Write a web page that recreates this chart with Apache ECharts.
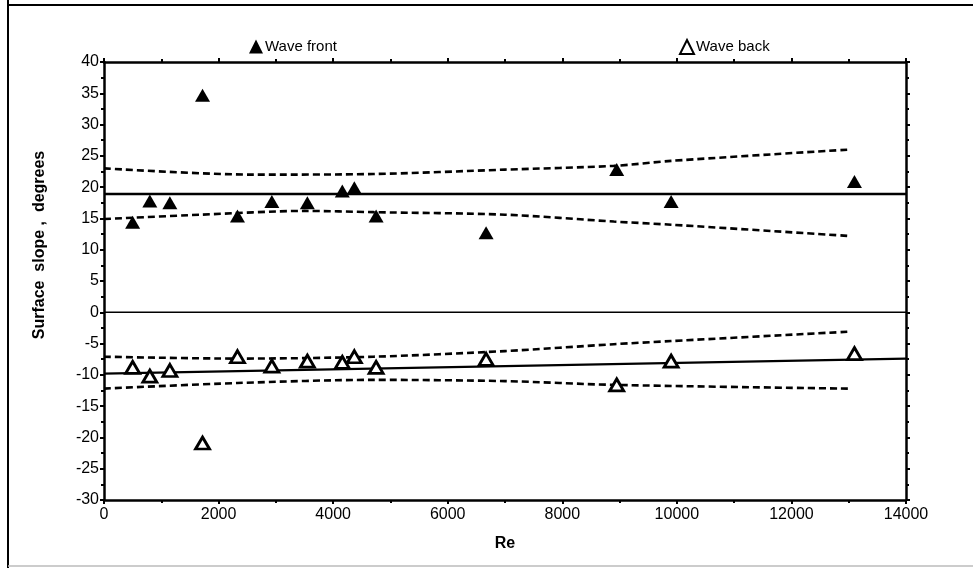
<!DOCTYPE html>
<html>
<head>
<meta charset="utf-8">
<script src="https://cdn.jsdelivr.net/npm/echarts@6/dist/echarts.min.js"></script>
<style>
  html, body { margin: 0; padding: 0; background: #fff; }
  #chart { width: 973px; height: 568px; }
</style>
</head>
<body>
<div id="chart"></div>
<script>
// Reynolds number of each run
const reNumber = [500, 800, 1150, 1720, 2330, 2930, 3550, 4160, 4370, 4750, 6670, 8950, 9900, 13100];
// Surface slope at the wave front and wave back (degrees)
const frontSlope = [14.4, 17.8, 17.5, 34.7, 15.4, 17.7, 17.5, 19.4, 19.9, 15.4, 12.7, 22.8, 17.7, 20.9];
const backSlope = [-8.8, -10.2, -9.3, -20.9, -7.1, -8.6, -7.8, -8.0, -7.1, -8.8, -7.5, -11.6, -7.8, -6.6];

// Fitted lines and their confidence bands
const frontFitRe = [0, 14000];
const frontFit = [18.9, 18.9];
const frontUpperRe = [0, 2600, 4700, 7000, 8900, 9900, 13000];
const frontUpper = [23.0, 22.0, 22.1, 22.8, 23.4, 24.2, 26.0];
const frontLowerRe = [0, 1700, 3500, 4700, 7000, 8900, 9900, 13000];
const frontLower = [14.9, 15.6, 16.2, 16.0, 15.6, 14.5, 14.0, 12.2];

const backFitRe = [0, 14000];
const backFit = [-9.8, -7.4];
const backUpperRe = [0, 2330, 4700, 7000, 8900, 9900, 13000];
const backUpper = [-7.1, -7.4, -7.1, -6.2, -5.1, -4.6, -3.1];
const backLowerRe = [0, 2330, 4700, 7000, 8900, 13000];
const backLower = [-12.2, -11.3, -10.8, -11.0, -11.6, -12.2];

const zeroRe = [0, 14000];
const zeroVal = [0, 0];

const xTicks = { min: 0, max: 14000, interval: 2000 };
const yTicks = { min: -30, max: 40, interval: 5 };

const pairs = (xs, ys) => xs.map((x, i) => [x, ys[i]]);

const FONT = 'Liberation Sans, Arial, sans-serif';
const axisLine = { show: true, onZero: false, lineStyle: { color: '#000', width: 2.5 } };
const axisTick = { show: true, inside: false, length: 4, lineStyle: { color: '#000', width: 2 } };
const minorTick = { show: true, splitNumber: 2, length: 3, lineStyle: { color: '#000', width: 2 } };

const dashed = { color: '#000', width: 2.6, type: [7, 4] };
const solid = { color: '#000', width: 2.4 };

function lineSeries(name, xs, ys, style) {
  return {
    name, type: 'line', data: pairs(xs, ys), symbol: 'none', smooth: 0.3,
    lineStyle: style, silent: true, z: 2
  };
}

const chart = echarts.init(document.getElementById('chart'), null, { renderer: 'canvas' });

chart.setOption({
  animation: false,
  backgroundColor: '#fff',
  grid: { left: 104, right: 67, top: 62, bottom: 68 },
  legend: [
    {
      data: [{ name: 'Wave front', icon: 'triangle' }],
      left: 244, top: 34, itemWidth: 14, itemHeight: 14, itemGap: 2,
      textStyle: { fontFamily: 'Liberation Sans Narrow, ' + FONT, fontSize: 15, color: '#000', padding: [0, 0, 0, -3] }
    },
    {
      data: [{ name: 'Wave back', icon: 'triangle' }],
      left: 674, top: 34, itemWidth: 14, itemHeight: 14, itemGap: 2,
      textStyle: { fontFamily: 'Liberation Sans Narrow, ' + FONT, fontSize: 15, color: '#000', padding: [0, 0, 0, -3] }
    }
  ],
  xAxis: [
    {
      type: 'value', position: 'bottom', ...xTicks,
      name: 'Re', nameLocation: 'middle', nameGap: 36,
      nameTextStyle: { fontFamily: FONT, fontSize: 16, fontWeight: 'bold', color: '#000' },
      axisLine, axisTick, minorTick,
      axisLabel: { fontFamily: FONT, fontSize: 16, color: '#000', margin: 7, formatter: v => String(v) },
      splitLine: { show: false }
    },
    {
      type: 'value', position: 'top', ...xTicks,
      axisLine, axisTick, minorTick,
      axisLabel: { show: false }, splitLine: { show: false }
    }
  ],
  yAxis: [
    {
      type: 'value', position: 'left', ...yTicks,
      axisLine, axisTick, minorTick,
      axisLabel: { fontFamily: FONT, fontSize: 16, color: '#000', margin: 5, formatter: v => String(v) },
      splitLine: { show: false }
    },
    {
      type: 'value', position: 'right', ...yTicks,
      axisLine, axisTick, minorTick,
      axisLabel: { show: false }, splitLine: { show: false }
    }
  ],
  series: [
    lineSeries('zero', zeroRe, zeroVal, { color: '#000', width: 1.5 }),
    lineSeries('front fit', frontFitRe, frontFit, solid),
    lineSeries('front upper', frontUpperRe, frontUpper, dashed),
    lineSeries('front lower', frontLowerRe, frontLower, dashed),
    lineSeries('back fit', backFitRe, backFit, solid),
    lineSeries('back upper', backUpperRe, backUpper, dashed),
    lineSeries('back lower', backLowerRe, backLower, dashed),
    {
      name: 'Wave front', type: 'scatter', data: pairs(reNumber, frontSlope),
      symbol: 'triangle', symbolSize: [15, 13],
      itemStyle: { color: '#000', opacity: 1 }, z: 5
    },
    {
      name: 'Wave back', type: 'scatter', data: pairs(reNumber, backSlope),
      symbol: 'triangle', symbolSize: [14, 12],
      itemStyle: { color: '#fff', borderColor: '#000', borderWidth: 2.8, opacity: 1 }, z: 5
    }
  ],
  graphic: [
    { type: 'line', shape: { x1: 8, y1: 0, x2: 8, y2: 568 }, style: { stroke: '#000', lineWidth: 2 } },
    { type: 'line', shape: { x1: 8, y1: 5, x2: 973, y2: 5 }, style: { stroke: '#000', lineWidth: 2 } },
    { type: 'line', shape: { x1: 8, y1: 566, x2: 973, y2: 566 }, style: { stroke: '#bbb', lineWidth: 1.5 } },
    {
      type: 'text', x: 40, y: 245, rotation: Math.PI / 2,
      style: {
        text: 'Surface  slope ,  degrees', fill: '#000',
        font: 'bold 16px ' + FONT, align: 'center', verticalAlign: 'middle'
      }
    }
  ]
});
</script>
</body>
</html>
